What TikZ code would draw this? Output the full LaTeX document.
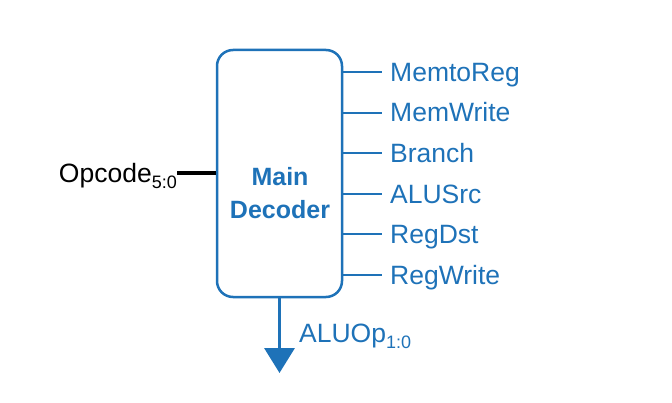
\documentclass[tikz,border=0pt]{standalone}
\usepackage{fontspec}
\setmainfont{Liberation Sans}
\usetikzlibrary{arrows.meta}

\definecolor{decblue}{RGB}{30,114,184}
% small lowered index after a signal name
\newcommand{\subtxt}[1]{\raisebox{-6pt}{\fontsize{18}{18}\selectfont #1}}

\begin{document}
\begin{tikzpicture}[x=1pt,y=1pt,
    sig/.style={anchor=west, inner sep=0pt, text height=18.5pt, text depth=0pt,
                text=decblue, font=\fontsize{26.5}{28}\selectfont},
    wire/.style={draw=decblue, line width=2pt}]

    % --- Page frame ---
    \useasboundingbox (0,0) rectangle (672,402);

    % --- Decoder box ---
    \node[draw=decblue, line width=2.5pt, rounded corners=16pt,
          minimum width=125pt, minimum height=247pt, inner sep=0pt] (dec) at (279.5,228.5) {};
    \node[text=decblue, align=center, font=\fontsize{25}{33}\selectfont\bfseries] (dectxt) at (280,209) {Main\\Decoder};

    % --- Control outputs (right side) ---
    \node[sig] (memtoreg) at (390,330) {MemtoReg};
    \node[sig] (memwrite) at (390,289.4) {MemWrite};
    \node[sig] (branch)   at (390,248.8) {Branch};
    \node[sig] (alusrc)   at (390,208.2) {ALUSrc};
    \node[sig] (regdst)   at (390,167.6) {RegDst};
    \node[sig] (regwrite) at (390,127) {RegWrite};

    \draw[wire] (dec.east |- memtoreg.west) -- ([xshift=-8pt]memtoreg.west);
    \draw[wire] (dec.east |- memwrite.west) -- ([xshift=-8pt]memwrite.west);
    \draw[wire] (dec.east |- branch.west)   -- ([xshift=-8pt]branch.west);
    \draw[wire] (dec.east |- alusrc.west)   -- ([xshift=-8pt]alusrc.west);
    \draw[wire] (dec.east |- regdst.west)   -- ([xshift=-8pt]regdst.west);
    \draw[wire] (dec.east |- regwrite.west) -- ([xshift=-8pt]regwrite.west);

    % --- Opcode input (left side) ---
    \node[anchor=base east, inner sep=0pt, font=\fontsize{26.5}{28}\selectfont] (opcode) at (177,219.5) {Opcode\subtxt{5:0}};
    \draw[line width=4pt] (dec.west) -- (dec.west -| opcode.east);

    % --- ALUOp output (bottom) ---
    \coordinate (aluoptip) at (279.5,29);
    \draw[decblue, line width=3.5pt, -{Triangle[width=30pt,length=25pt]}] (dec.south) -- (aluoptip);
    \node[anchor=base west, inner sep=0pt, text=decblue, font=\fontsize{26.5}{28}\selectfont] (aluop) at (299,60) {ALUOp\subtxt{1:0}};

\end{tikzpicture}
\end{document}
